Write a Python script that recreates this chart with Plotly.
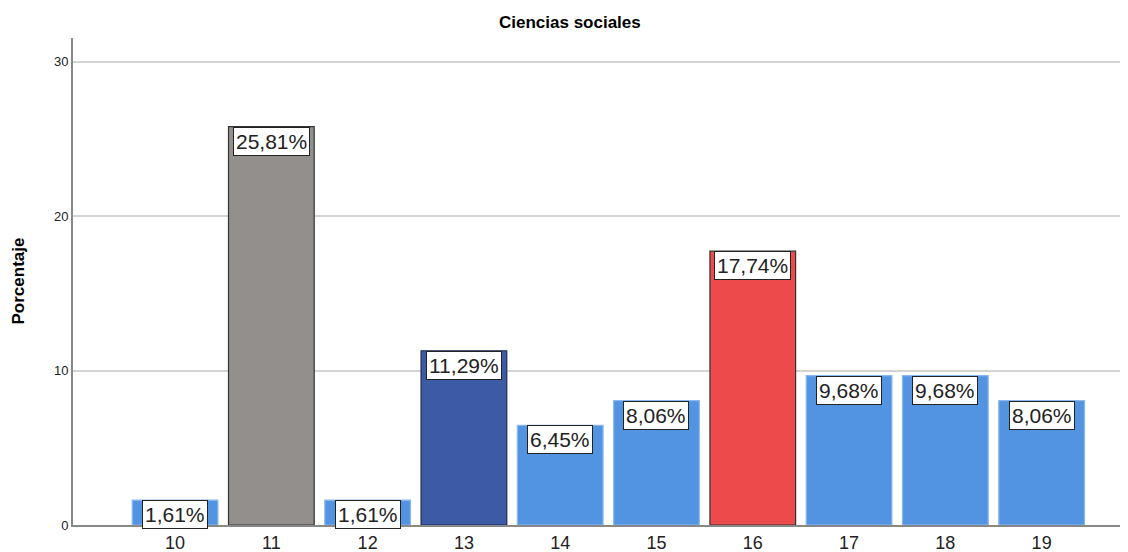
import plotly.graph_objects as go

categories = [10, 11, 12, 13, 14, 15, 16, 17, 18, 19]
values = [1.61, 25.81, 1.61, 11.29, 6.45, 8.06, 17.74, 9.68, 9.68, 8.06]
labels = ["1,61%", "25,81%", "1,61%", "11,29%", "6,45%", "8,06%", "17,74%", "9,68%", "9,68%", "8,06%"]
bar_colors = ["#5294e2", "#928f8d", "#5294e2", "#3d5aa6", "#5294e2", "#5294e2",
              "#ec4a4b", "#5294e2", "#5294e2", "#5294e2"]
edge_colors = ["#8ab8ee", "#333333", "#8ab8ee", "#1e2a50", "#8ab8ee", "#8ab8ee",
               "#333333", "#8ab8ee", "#8ab8ee", "#8ab8ee"]
y_ticks = [0, 10, 20, 30]

FONT = "Liberation Sans, Arial, sans-serif"

fig = go.Figure()
fig.add_trace(go.Bar(
    x=categories, y=values, width=0.89,
    marker=dict(color=bar_colors, line=dict(color=edge_colors, width=1.2)),
    hoverinfo="skip", showlegend=False,
))

for c, v, t in zip(categories, values, labels):
    fig.add_annotation(
        x=c, y=v, text=t, showarrow=False, xanchor="center", yanchor="top",
        yshift=0,
        font=dict(family=FONT, size=21, color="#222222"),
        bgcolor="white", bordercolor="#222222", borderwidth=1, borderpad=2,
    )

# title and axis title
fig.add_annotation(
    text="<b>Ciencias sociales</b>", xref="x", yref="paper", x=14.1, y=1,
    yshift=16, xanchor="center", yanchor="middle", showarrow=False,
    font=dict(family=FONT, size=17, color="#000000"),
)
fig.add_annotation(
    text="<b>Porcentaje</b>", xref="paper", yref="paper", x=0, y=0.50,
    xshift=-55, xanchor="center", yanchor="middle", textangle=-90, showarrow=False,
    font=dict(family=FONT, size=17, color="#000000"),
)

fig.update_layout(
    width=1128, height=544,
    margin=dict(l=65, r=0, t=30, b=27),
    plot_bgcolor="white", paper_bgcolor="white",
    font=dict(family=FONT, color="#222222"),
    bargap=0.1,
)
fig.update_xaxes(
    range=[8.94, 19.98], tickvals=categories, ticktext=[str(c) for c in categories],
    showgrid=False, showline=True, linecolor="#888888", linewidth=2, ticks="",
    tickfont=dict(size=18, color="#222222"), zeroline=False, automargin=False,
)
fig.update_yaxes(
    range=[0, 31.55], tickvals=y_ticks, showgrid=True, gridcolor="#d4d4d4", gridwidth=1.5,
    showline=True, linecolor="#888888", linewidth=2, ticks="", zeroline=False,
    tickfont=dict(size=13, color="#222222"), automargin=False,
)

fig.write_html("out.html")
